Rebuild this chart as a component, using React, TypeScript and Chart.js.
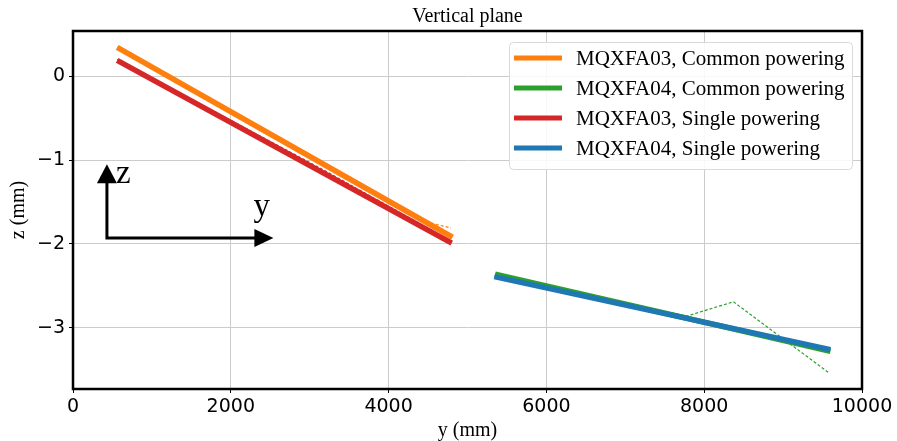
import React, { useEffect, useRef } from "react";
import { Chart, registerables } from "chart.js";

Chart.register(...registerables);

// ---- data (y in mm, z in mm) ----
const a03CommonX = [560, 4810];
const a03CommonY = [0.345, -1.92];
const a04CommonX = [5350, 9600];
const a04CommonY = [-2.36, -3.28];
const a03SingleX = [560, 4800];
const a03SingleY = [0.19, -1.99];
const a04SingleX = [5340, 9600];
const a04SingleY = [-2.39, -3.26];

// thin dashed companion traces
const a03CommonDashX = [560, 1200, 1700, 3200, 4450, 4790];
const a03CommonDashY = [0.345, 0.03, -0.25, -1.08, -1.73, -1.81];
const a03SingleDashX = [560, 3200, 4800];
const a03SingleDashY = [0.2, -1.13, -1.97];
const a04CommonDashX = [5350, 7780, 8370, 9570];
const a04CommonDashY = [-2.36, -2.86, -2.69, -3.53];
const a04SingleDashX = [5340, 9600];
const a04SingleDashY = [-2.39, -3.26];

const xTicks = [0, 2000, 4000, 6000, 8000, 10000];
const yTicks = [-3, -2, -1, 0];

const seriesNames = [
  "MQXFA03, Common powering",
  "MQXFA04, Common powering",
  "MQXFA03, Single powering",
  "MQXFA04, Single powering",
];
const seriesColors = ["#ff7f0e", "#2ca02c", "#d62728", "#1f77b4"];

// annotation (coordinate system arrows)
const axisOrigin = [430, -1.93];
const axisZTip = [430, -1.05];
const axisYTip = [2540, -1.93];

const pts = (xs: number[], ys: number[]) => xs.map((x, i) => ({ x, y: ys[i] }));

const SERIF = "'Liberation Serif', 'Times New Roman', serif";
const SANS = "'DejaVu Sans', sans-serif";

export default function App() {
  const ref = useRef<HTMLCanvasElement | null>(null);

  useEffect(() => {
    document.body.style.margin = "0";
    const canvas = ref.current!;

    const overlay = {
      id: "overlay",
      afterDatasetsDraw(chart: any) {
        const { ctx, chartArea, scales } = chart;
        const xs = scales.x, ys = scales.y;
        ctx.save();
        // coordinate arrows
        const ox = xs.getPixelForValue(axisOrigin[0]);
        const oy = ys.getPixelForValue(axisOrigin[1]);
        const zx = xs.getPixelForValue(axisZTip[0]);
        const zy = ys.getPixelForValue(axisZTip[1]);
        const yx = xs.getPixelForValue(axisYTip[0]);
        const yy = ys.getPixelForValue(axisYTip[1]);
        ctx.strokeStyle = "#000";
        ctx.fillStyle = "#000";
        ctx.lineWidth = 3;
        ctx.beginPath();
        ctx.moveTo(zx, zy + 16);
        ctx.lineTo(ox, oy);
        ctx.lineTo(yx - 16, yy);
        ctx.stroke();
        ctx.beginPath();
        ctx.moveTo(zx, zy);
        ctx.lineTo(zx - 10, zy + 19);
        ctx.lineTo(zx + 10, zy + 19);
        ctx.closePath();
        ctx.fill();
        ctx.beginPath();
        ctx.moveTo(yx, yy);
        ctx.lineTo(yx - 19, yy - 9);
        ctx.lineTo(yx - 19, yy + 9);
        ctx.closePath();
        ctx.fill();
        ctx.font = `33px ${SERIF}`;
        ctx.textAlign = "left";
        ctx.textBaseline = "alphabetic";
        ctx.fillText("z", zx + 9, zy + 19);
        ctx.fillText("y", yx - 20, yy - 22);

        // frame
        ctx.lineWidth = 2.5;
        ctx.strokeRect(chartArea.left, chartArea.top, chartArea.right - chartArea.left, chartArea.bottom - chartArea.top);

        // legend
        const lx = 509, ly = 42, lw = 343, lh = 127;
        ctx.beginPath();
        (ctx as any).roundRect(lx + 0.5, ly + 0.5, lw, lh, 4);
        ctx.fillStyle = "rgba(255,255,255,0.85)";
        ctx.fill();
        ctx.strokeStyle = "#d9d9d9";
        ctx.lineWidth = 1;
        ctx.stroke();
        ctx.font = `21px ${SERIF}`;
        ctx.textBaseline = "middle";
        seriesNames.forEach((name, i) => {
          const cy = 58 + i * 30;
          ctx.strokeStyle = seriesColors[i];
          ctx.lineWidth = 5;
          ctx.lineCap = "butt";
          ctx.beginPath();
          ctx.moveTo(514, cy);
          ctx.lineTo(562, cy);
          ctx.stroke();
          ctx.fillStyle = "#000";
          ctx.fillText(name, 576, cy + 1);
        });

        // title & axis labels
        ctx.font = `20px ${SERIF}`;
        ctx.textAlign = "center";
        ctx.textBaseline = "middle";
        ctx.fillText("Vertical plane", (chartArea.left + chartArea.right) / 2, 17);
        ctx.fillText("y (mm)", (chartArea.left + chartArea.right) / 2, 431);
        ctx.save();
        ctx.translate(19, (chartArea.top + chartArea.bottom) / 2);
        ctx.rotate(-Math.PI / 2);
        ctx.fillText("z (mm)", 0, 0);
        ctx.restore();
        ctx.restore();
      },
    };

    const thick = (i: number, xs: number[], ys: number[], order: number) => ({
      label: seriesNames[i],
      data: pts(xs, ys),
      showLine: true,
      borderColor: seriesColors[i],
      backgroundColor: seriesColors[i],
      borderWidth: 5.5,
      pointRadius: 0,
      order,
    });
    const dash = (i: number, xs: number[], ys: number[], order: number) => ({
      label: seriesNames[i] + " (dashed)",
      data: pts(xs, ys),
      showLine: true,
      borderColor: seriesColors[i],
      borderWidth: 1.2,
      borderDash: [3, 2],
      pointRadius: 0,
      order,
    });

    const chart = new Chart(canvas, {
      type: "scatter",
      data: {
        datasets: [
          dash(0, a03CommonDashX, a03CommonDashY, 9),
          dash(1, a04CommonDashX, a04CommonDashY, 8),
          dash(2, a03SingleDashX, a03SingleDashY, 7),
          dash(3, a04SingleDashX, a04SingleDashY, 6),
          thick(0, a03CommonX, a03CommonY, 4),
          thick(1, a04CommonX, a04CommonY, 3),
          thick(2, a03SingleX, a03SingleY, 2),
          thick(3, a04SingleX, a04SingleY, 1),
        ] as any,
      },
      options: {
        animation: false,
        responsive: false,
        devicePixelRatio: 1,
        layout: { padding: { top: 31, right: 35, left: 0, bottom: 0 } },
        plugins: { legend: { display: false }, title: { display: false }, tooltip: { enabled: false } },
        scales: {
          x: {
            type: "linear",
            min: 0,
            max: 10000,
            afterBuildTicks: (s: any) => { s.ticks = xTicks.map((v) => ({ value: v })); },
            afterFit: (s: any) => { s.height = 52; },
            grid: { color: "#cccccc", lineWidth: 1, drawTicks: true, tickLength: 4, tickColor: "#000", tickWidth: 1 },
            border: { display: false },
            ticks: { font: { family: SANS, size: 19 }, color: "#000", padding: 3, maxRotation: 0, callback: (v: any) => String(v) },
          },
          y: {
            type: "linear",
            min: -3.73,
            max: 0.54,
            afterBuildTicks: (s: any) => { s.ticks = yTicks.map((v) => ({ value: v })); },
            afterFit: (s: any) => { s.width = 73; },
            grid: { color: "#cccccc", lineWidth: 1, drawTicks: true, tickLength: 4, tickColor: "#000", tickWidth: 1 },
            border: { display: false },
            ticks: {
              font: { family: SANS, size: 19 },
              color: "#000",
              padding: 4,
              callback: (v: any) => (v < 0 ? "\u2212" + Math.abs(v) : String(v)),
            },
          },
        },
      },
      plugins: [overlay],
    });
    return () => chart.destroy();
  }, []);

  return (
    <div style={{ position: "fixed", left: 0, top: 0, width: 897, height: 441, background: "#fff" }}>
      <canvas ref={ref} width={897} height={441} style={{ width: 897, height: 441, display: "block" }} />
    </div>
  );
}
